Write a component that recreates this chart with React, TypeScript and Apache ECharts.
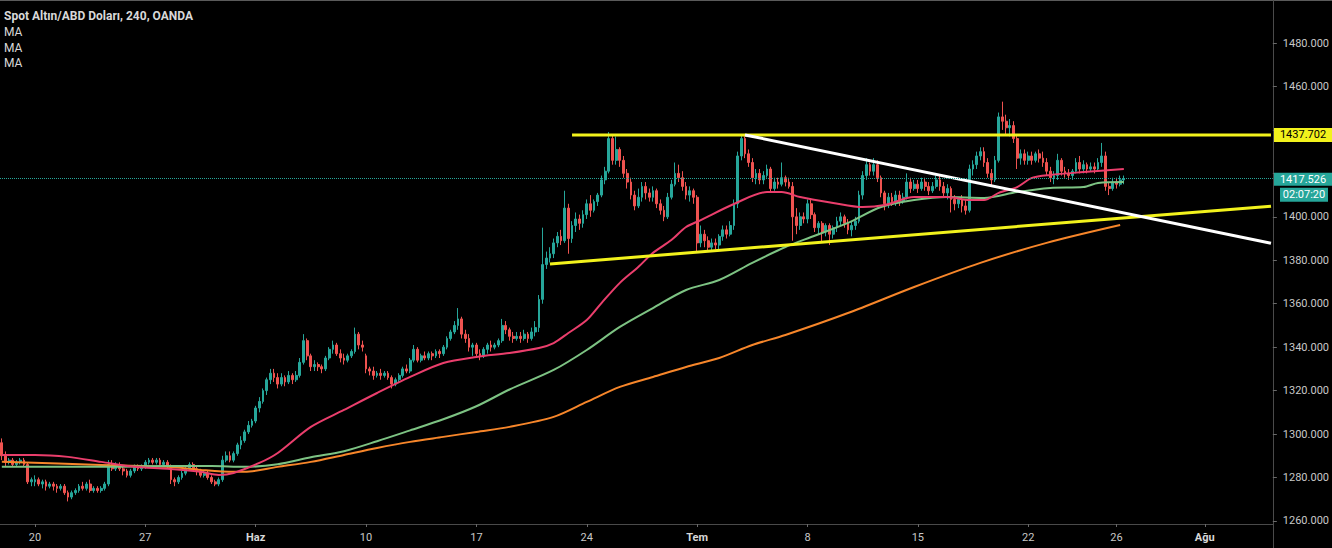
import React, { useEffect, useRef } from "react";
import * as echarts from "echarts";

// ---- axis structure ----
const tradingDays = ["05-16","05-17","05-20","05-21","05-22","05-23","05-24","05-27","05-28","05-29","05-30","05-31","06-03","06-04","06-05","06-06","06-07","06-10","06-11","06-12","06-13","06-14","06-17","06-18","06-19","06-20","06-21","06-24","06-25","06-26","06-27","06-28","07-01","07-02","07-03","07-04","07-05","07-08","07-09","07-10","07-11","07-12","07-15","07-16","07-17","07-18","07-19","07-22","07-23","07-24","07-25","07-26","07-29","07-30","07-31","08-01","08-02","08-05","08-06"];
const barHours = ["00","04","08","12","16","20"];
const firstBar = 3;
const barCount = 346;
const tickDays = ["05-20","05-27","06-03","06-10","06-17","06-24","07-01","07-08","07-15","07-22","07-26","08-01"];
const tickLabels = ["20","27","Haz","10","17","24","Tem","8","15","22","26","Ağu"];
const monthLabels = ["Haz","Tem","Ağu"];
const priceTicks = [1260,1280,1300,1320,1340,1360,1380,1400,1420,1440,1460,1480];
// labels hidden behind the price badges in the reference
const priceLabels = [1260,1280,1300,1320,1340,1360,1380,1400,1460,1480];

// ---- candles [open, close, low, high], 4h bars ----
const may16_17 = [[1296,1290,1288,1298],[1290,1287,1285,1292],[1287,1288,1286,1289],[1288,1286,1285,1289],[1286,1287,1285,1288],[1287,1288,1286,1289],[1288,1286,1285,1289],[1286,1278,1277,1287],[1278,1279,1276,1280]];
const weekMay20 = [
[1278,1279,1276,1281],[1279,1277,1276,1280],[1277,1278,1275,1279],[1278,1276,1274,1279],[1276,1277,1275,1278],[1277,1276,1274,1278],
[1276,1275,1273,1277],[1275,1276,1274,1277],[1276,1273,1272,1277],[1273,1271,1269,1274],[1271,1273,1270,1274],[1273,1274,1272,1275],
[1274,1276,1273,1277],[1276,1275,1274,1278],[1275,1277,1274,1278],[1277,1274,1273,1279],[1274,1275,1273,1276],[1275,1274,1273,1276],
[1274,1275,1273,1276],[1275,1277,1274,1278],[1277,1286,1276,1288],[1286,1284,1283,1288],[1284,1286,1283,1287],[1286,1284,1283,1287],
[1284,1283,1281,1285],[1283,1281,1280,1284],[1281,1283,1280,1284],[1283,1285,1282,1286],[1285,1284,1283,1286],[1284,1285,1283,1286]];
const weekMay27 = [
[1285,1287,1284,1288],[1287,1288,1286,1289],[1288,1287,1286,1289],[1287,1288,1286,1289],[1288,1286,1285,1289],[1286,1287,1285,1288],
[1287,1285,1284,1288],[1285,1279,1277,1286],[1279,1278,1276,1280],[1278,1280,1277,1281],[1280,1282,1279,1283],[1282,1284,1281,1285],
[1284,1286,1283,1287],[1286,1284,1283,1287],[1284,1283,1281,1285],[1283,1281,1280,1284],[1281,1282,1280,1283],[1282,1280,1279,1283],
[1280,1278,1277,1281],[1278,1277,1276,1279],[1277,1279,1276,1280],[1279,1288,1278,1290],[1288,1290,1287,1292],[1290,1288,1287,1292],
[1288,1291,1287,1292],[1291,1295,1290,1296],[1295,1297,1293,1299],[1297,1301,1296,1302],[1301,1304,1300,1306],[1304,1306,1303,1307]];
const weekJun03 = [
[1306,1312,1305,1313],[1312,1315,1310,1317],[1315,1320,1314,1321],[1320,1325,1318,1326],[1325,1328,1323,1330],[1328,1326,1324,1330],
[1326,1323,1321,1328],[1323,1326,1322,1328],[1326,1324,1322,1327],[1324,1327,1323,1329],[1327,1325,1323,1328],[1325,1327,1324,1329],
[1327,1333,1326,1335],[1333,1343,1332,1346],[1343,1336,1334,1344],[1336,1331,1329,1337],[1331,1332,1329,1334],[1332,1331,1329,1333],
[1331,1330,1328,1332],[1330,1335,1329,1336],[1335,1339,1334,1340],[1339,1341,1337,1343],[1341,1337,1336,1342],[1337,1335,1333,1339],
[1335,1334,1332,1337],[1334,1336,1333,1337],[1336,1338,1335,1339],[1338,1346,1337,1349],[1346,1341,1339,1347],[1341,1340,1338,1343]];
const weekJun10 = [
[1336,1330,1328,1337],[1330,1329,1327,1331],[1329,1327,1325,1331],[1327,1328,1326,1329],[1328,1327,1325,1330],[1327,1328,1326,1329],
[1328,1326,1325,1329],[1326,1323,1321,1327],[1323,1325,1322,1326],[1325,1327,1324,1328],[1327,1330,1326,1331],[1330,1329,1328,1332],
[1329,1334,1328,1335],[1334,1339,1333,1341],[1339,1334,1333,1340],[1334,1336,1333,1337],[1336,1335,1334,1338],[1335,1337,1334,1338],
[1337,1336,1334,1338],[1336,1338,1335,1339],[1338,1337,1335,1339],[1337,1340,1336,1341],[1340,1344,1339,1345],[1344,1347,1343,1348],
[1347,1350,1346,1352],[1350,1353,1348,1358],[1353,1346,1344,1354],[1346,1344,1342,1348],[1344,1340,1338,1346],[1340,1341,1336,1342]];
const weekJun17 = [
[1341,1337,1335,1342],[1337,1336,1334,1339],[1336,1339,1335,1340],[1339,1341,1337,1342],[1341,1340,1338,1343],[1340,1341,1339,1342],
[1341,1343,1340,1344],[1343,1350,1342,1353],[1350,1348,1346,1352],[1348,1345,1343,1349],[1345,1344,1342,1347],[1344,1345,1343,1347],
[1345,1344,1342,1347],[1344,1346,1343,1348],[1346,1344,1342,1347],[1344,1347,1343,1349],[1347,1349,1345,1352],[1349,1362,1347,1364],
[1362,1378,1360,1395],[1378,1381,1376,1384],[1381,1383,1379,1386],[1383,1388,1381,1390],[1388,1391,1386,1393],[1391,1389,1387,1394],
[1389,1404,1388,1412],[1404,1390,1383,1406],[1390,1396,1388,1398],[1396,1399,1393,1402],[1399,1397,1394,1401],[1397,1401,1395,1403]];
const weekJun24 = [
[1401,1406,1399,1408],[1406,1403,1400,1410],[1403,1407,1402,1408],[1407,1410,1405,1411],[1410,1417,1409,1419],[1417,1421,1415,1423],
[1421,1436,1420,1439],[1436,1426,1424,1438],[1426,1431,1424,1437],[1431,1426,1423,1432],[1426,1420,1418,1428],[1420,1416,1413,1422],
[1416,1410,1408,1418],[1410,1405,1403,1412],[1405,1409,1404,1413],[1409,1414,1407,1416],[1414,1411,1408,1416],[1411,1409,1407,1413],
[1409,1412,1407,1414],[1412,1406,1404,1413],[1406,1403,1401,1408],[1403,1400,1398,1405],[1400,1409,1399,1411],[1409,1415,1408,1417],
[1415,1420,1414,1425],[1420,1418,1416,1424],[1418,1414,1412,1421],[1414,1410,1408,1416],[1410,1412,1407,1414],[1412,1409,1406,1413]];
const weekJul01 = [
[1409,1388,1384,1410],[1388,1392,1386,1396],[1392,1389,1386,1394],[1389,1386,1384,1391],[1386,1388,1384,1390],[1388,1387,1385,1390],
[1387,1391,1385,1392],[1391,1394,1389,1396],[1394,1392,1390,1396],[1392,1396,1391,1398],[1396,1406,1394,1408],[1406,1428,1404,1430],
[1428,1436,1426,1438],[1436,1429,1427,1437],[1429,1425,1423,1431],[1425,1418,1416,1427],[1418,1420,1415,1422],[1420,1417,1415,1422],
[1417,1419,1415,1421],[1419,1422,1418,1424],[1422,1413,1411,1423],[1413,1416,1412,1418],[1416,1415,1413,1418],[1415,1418,1414,1425],
[1418,1416,1414,1419],[1416,1414,1413,1418],[1414,1400,1389,1416],[1400,1396,1392,1404],[1396,1400,1394,1402],[1400,1399,1397,1402]];
const weekJul08 = [
[1399,1406,1397,1408],[1406,1401,1399,1408],[1401,1395,1393,1402],[1395,1397,1392,1398],[1397,1393,1388,1398],[1393,1396,1391,1397],
[1396,1392,1387,1397],[1392,1395,1390,1396],[1395,1398,1393,1400],[1398,1400,1396,1402],[1400,1397,1395,1401],[1397,1394,1392,1399],
[1394,1396,1391,1398],[1396,1398,1394,1400],[1398,1410,1397,1412],[1410,1419,1408,1421],[1419,1424,1417,1427],[1424,1421,1419,1425],
[1421,1424,1419,1427],[1424,1418,1416,1426],[1418,1411,1409,1419],[1411,1406,1403,1412],[1406,1409,1404,1411],[1409,1407,1405,1411],
[1407,1410,1405,1412],[1410,1407,1405,1412],[1407,1409,1406,1411],[1409,1416,1408,1420],[1416,1413,1411,1418],[1413,1415,1412,1417]];
const weekJul15 = [
[1415,1413,1411,1417],[1413,1416,1412,1418],[1416,1414,1412,1418],[1414,1412,1410,1416],[1412,1414,1411,1416],[1414,1417,1413,1419],
[1417,1414,1412,1419],[1414,1411,1409,1416],[1411,1413,1408,1415],[1413,1408,1402,1414],[1408,1406,1403,1410],[1406,1408,1404,1409],
[1408,1405,1402,1410],[1405,1403,1401,1408],[1403,1422,1402,1424],[1422,1424,1419,1426],[1424,1428,1422,1430],[1428,1430,1426,1432],
[1430,1425,1423,1432],[1425,1420,1418,1427],[1420,1417,1414,1422],[1417,1426,1416,1428],[1426,1446,1425,1448],[1446,1444,1440,1453],
[1444,1441,1438,1447],[1441,1442,1437,1445],[1442,1436,1434,1444],[1436,1427,1422,1438],[1427,1429,1424,1431],[1429,1426,1424,1431]];
const weekJul22 = [
[1426,1428,1424,1430],[1428,1426,1424,1430],[1426,1429,1425,1430],[1429,1427,1425,1431],[1427,1425,1423,1430],[1425,1421,1419,1427],
[1421,1418,1416,1423],[1418,1419,1415,1421],[1419,1426,1417,1429],[1426,1421,1419,1427],[1421,1420,1418,1423],[1420,1419,1417,1422],
[1419,1421,1417,1422],[1421,1425,1420,1427],[1425,1422,1420,1428],[1422,1424,1420,1426],[1424,1422,1420,1425],[1422,1423,1421,1425],
[1423,1422,1420,1425],[1422,1425,1421,1427],[1425,1428,1423,1434],[1428,1414,1412,1430],[1414,1413,1410,1416],[1413,1416,1412,1418],
[1416,1415,1413,1418],[1415,1417,1414,1419],[1417,1417.526,1415,1419]];

// ---- moving averages: [bar index, price] ----
const maFast = [[0,1290.4],[9,1290.4],[18,1289.5],[27,1287.2],[36,1284.9],[45,1284.0],[54,1282.6],[59,1281.2],[63,1282.1],[70,1286.7],[75,1291.3],[84,1303.3],[93,1311.1],[102,1318.9],[111,1326.3],[120,1332.7],[129,1335.5],[138,1337.3],[146,1339.6],[150,1341.9],[154,1346.5],[159,1352.5],[163,1360.3],[168,1369.6],[173,1376.9],[177,1383.4],[182,1389.3],[186,1395.3],[190,1398.5],[199,1405.9],[208,1411.4],[212,1411.4],[217,1409.1],[226,1406.4],[234,1404.5],[240,1405.4],[248,1409.1],[257,1409.1],[263,1407.7],[267,1407.7],[271,1411.0],[276,1413.7],[280,1417.9],[285,1419.3],[294,1420.6],[305,1422.0]];
const maMid = [[0,1284.9],[27,1284.9],[45,1285.3],[57,1285.3],[66,1284.9],[75,1286.1],[84,1289.3],[93,1292.1],[102,1296.7],[111,1301.7],[120,1306.8],[129,1312.8],[138,1320.5],[150,1329.5],[159,1338.7],[168,1349.3],[177,1358.0],[186,1366.3],[195,1370.9],[204,1378.8],[213,1386.1],[220,1390.7],[230,1397.2],[239,1404.5],[248,1407.7],[257,1409.1],[267,1408.7],[276,1411.4],[285,1413.3],[294,1413.7],[298,1415.6],[305,1416.0]];
const maSlow = [[0,1287.2],[27,1285.8],[45,1284.9],[54,1283.5],[63,1282.6],[66,1282.6],[75,1284.9],[84,1287.2],[93,1290.4],[102,1293.6],[111,1296.4],[120,1298.7],[129,1301.0],[138,1303.3],[150,1307.9],[159,1314.8],[168,1321.7],[177,1326.3],[186,1330.9],[195,1335.0],[204,1341.0],[213,1345.6],[230,1355.7],[248,1367.7],[266,1378.8],[284,1388.0],[304,1396.2]];

// ---- drawn levels / trend lines ----
const resistanceLevel = 1437.702;
const lastPrice = 1417.526;
const countdown = "02:07:20";
const resistanceLine = [[155, 1437.702], [345, 1437.702]];
const risingSupport = [[149, 1378.3], [345, 1404.9]];
const fallingTrend = [[202, 1437.7], [345, 1387.8]];

const titleText = "Spot Altın/ABD Doları, 240, OANDA";
const legendTexts = ["MA", "MA", "MA"];

const UP = "#26a69a";
const DOWN = "#ef5350";

function buildCategories() {
  const all: string[] = [];
  tradingDays.forEach((d) => barHours.forEach((h) => all.push(`${d} ${h}:00`)));
  return all.slice(firstBar, firstBar + barCount);
}

export default function App() {
  const ref = useRef<HTMLDivElement>(null);
  useEffect(() => {
    document.body.style.margin = "0";
    document.body.style.background = "#000";
    const chart = echarts.init(ref.current!, null, { renderer: "svg" });
    const categories = buildCategories();
    const candles = [
      ...may16_17, ...weekMay20, ...weekMay27, ...weekJun03, ...weekJun10,
      ...weekJun17, ...weekJun24, ...weekJul01, ...weekJul08, ...weekJul15, ...weekJul22,
    ];
    const isTick = (_i: number, v: string) =>
      v.endsWith(" 00:00") && tickDays.includes(v.slice(0, 5));
    const lineSeries = (data: number[][], color: string, width: number, smooth: number | boolean, z: number) => ({
      type: "line",
      data,
      showSymbol: false,
      symbol: "none",
      smooth,
      lineStyle: { color, width },
      silent: true,
      z,
    });
    chart.setOption({
      animation: false,
      backgroundColor: "#000",
      grid: { left: 0, right: 59, top: 0, bottom: 24 },
      xAxis: {
        type: "category",
        data: categories,
        boundaryGap: true,
        axisLine: { show: true, lineStyle: { color: "#4a4a4a" } },
        axisTick: { show: true, interval: isTick, alignWithLabel: true, length: 3, lineStyle: { color: "#6a6a6a" } },
        axisLabel: {
          interval: isTick,
          margin: 8,
          color: "#c8c8c8",
          fontSize: 11,
          fontFamily: "Roboto",
          formatter: (v: string) => {
            const t = tickLabels[tickDays.indexOf(v.slice(0, 5))];
            return monthLabels.includes(t) ? `{b|${t}}` : t;
          },
          rich: { b: { fontWeight: "bold", color: "#d8d8d8", fontSize: 11, fontFamily: "Roboto" } },
        },
        splitLine: { show: false },
      },
      yAxis: {
        type: "value",
        position: "right",
        scale: true,
        min: 1258.6,
        max: 1499.8,
        axisLine: { show: true, lineStyle: { color: "#4a4a4a" } },
        axisTick: { show: true, length: 4, customValues: priceTicks, lineStyle: { color: "#6a6a6a" } },
        axisLabel: {
          customValues: priceLabels,
          margin: 10,
          color: "#c8c8c8",
          fontSize: 11,
          fontFamily: "Roboto",
          formatter: (v: number) => v.toFixed(3),
        },
        splitLine: { show: false },
      },
      series: [
        {
          type: "candlestick",
          data: candles,
          barWidth: "62%",
          itemStyle: { color: UP, color0: DOWN, borderColor: UP, borderColor0: DOWN, borderWidth: 1 },
          z: 2,
          markLine: {
            silent: true,
            symbol: "none",
            label: { show: false },
            lineStyle: { color: UP, type: "dotted", width: 1 },
            data: [{ yAxis: lastPrice }],
          },
        },
        lineSeries(maSlow, "#f7862a", 2, 0.3, 3),
        lineSeries(maMid, "#7dc383", 2, 0.3, 3),
        lineSeries(maFast, "#ea3e6c", 2, 0.3, 3),
        lineSeries(resistanceLine, "#f2f21c", 3, false, 4),
        lineSeries(risingSupport, "#f2f21c", 3, false, 4),
        lineSeries(fallingTrend, "#ffffff", 3, false, 4),
      ],
    });

    const yRes = chart.convertToPixel({ yAxisIndex: 0 }, resistanceLevel) as number;
    const yCur = chart.convertToPixel({ yAxisIndex: 0 }, lastPrice) as number;
    const txt = (x: number, y: number, text: string, fill: string, size: number, weight: string, align = "left") => ({
      type: "text",
      x,
      y,
      silent: true,
      style: { text, fill, fontSize: size, fontWeight: weight, fontFamily: "Roboto", align, verticalAlign: "middle" },
      z: 10,
    });
    chart.setOption({
      graphic: [
        { type: "rect", shape: { x: 0, y: 0, width: 1332, height: 1 }, style: { fill: "#5a5a5a" }, silent: true },
        { type: "line", shape: { x1: 1273.5, y1: 524, x2: 1273.5, y2: 548 }, style: { stroke: "#4a4a4a", lineWidth: 1 }, silent: true },
        txt(4, 16, titleText, "#d8d8d8", 12, "bold"),
        txt(4, 32, legendTexts[0], "#d8d8d8", 12, "normal"),
        txt(4, 48, legendTexts[1], "#d8d8d8", 12, "normal"),
        txt(4, 63, legendTexts[2], "#d8d8d8", 12, "normal"),
        { type: "rect", shape: { x: 1274, y: yRes - 7, width: 58, height: 14 }, style: { fill: "#f2f21c" }, silent: true, z: 9 },
        txt(1303, yRes, resistanceLevel.toFixed(3), "#000000", 11, "normal", "center"),
        { type: "rect", shape: { x: 1274, y: yCur - 6, width: 58, height: 13 }, style: { fill: UP }, silent: true, z: 9 },
        txt(1303, yCur + 0.5, lastPrice.toFixed(3), "#ffffff", 11, "normal", "center"),
        { type: "rect", shape: { x: 1280, y: yCur + 9, width: 48, height: 14 }, style: { fill: UP }, silent: true, z: 9 },
        txt(1304, yCur + 16, countdown, "#ffffff", 11, "normal", "center"),
      ],
    });
    return () => chart.dispose();
  }, []);
  return <div ref={ref} style={{ width: 1332, height: 548, background: "#000" }} />;
}
